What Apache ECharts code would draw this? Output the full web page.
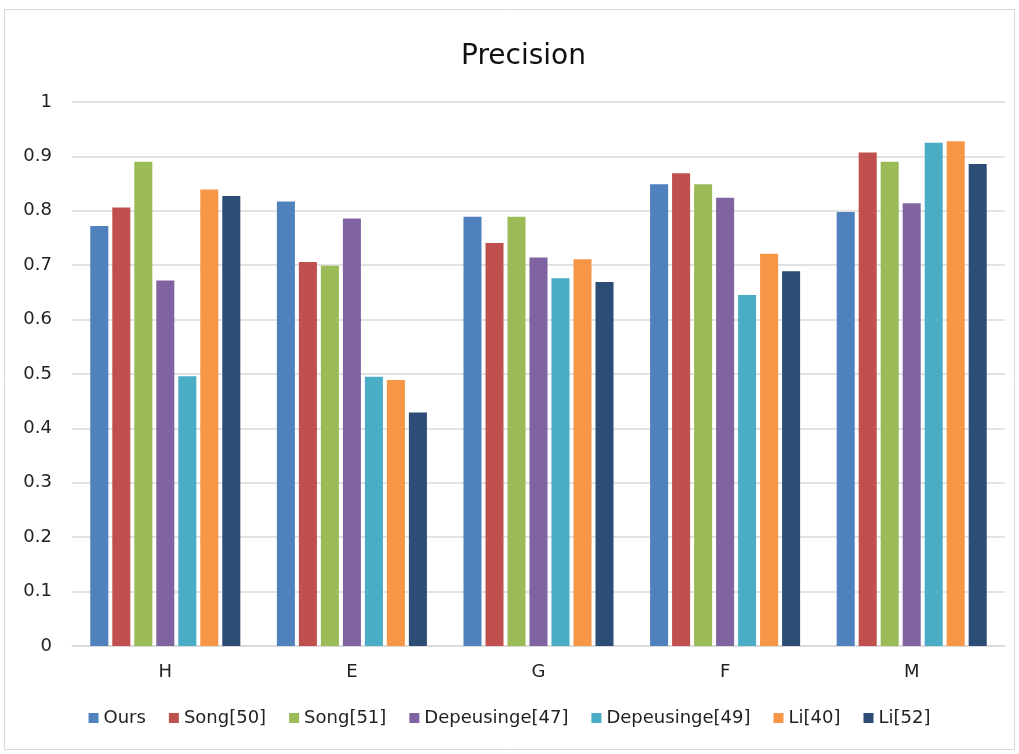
<!DOCTYPE html>
<html>
<head>
<meta charset="utf-8">
<script src="https://cdn.jsdelivr.net/npm/echarts@6/dist/echarts.min.js"></script>
<style>
  html, body { margin: 0; padding: 0; background: #fff; }
  #chart { width: 1019px; height: 754px; }
</style>
</head>
<body>
<div id="chart"></div>
<script>
// Precision per dataset and method
const categories = ['H', 'E', 'G', 'F', 'M'];
const seriesNames = ['Ours', 'Song[50]', 'Song[51]', 'Depeusinge[47]', 'Depeusinge[49]', 'Li[40]', 'Li[52]'];
const ours          = [0.772, 0.817, 0.789, 0.849, 0.798];
const song50        = [0.806, 0.706, 0.741, 0.869, 0.907];
const song51        = [0.890, 0.699, 0.789, 0.849, 0.890];
const depeusinge47  = [0.672, 0.786, 0.714, 0.824, 0.814];
const depeusinge49  = [0.496, 0.495, 0.676, 0.645, 0.925];
const li40          = [0.839, 0.489, 0.711, 0.721, 0.928];
const li52          = [0.827, 0.429, 0.669, 0.689, 0.886];
const yTicks = [0, 0.1, 0.2, 0.3, 0.4, 0.5, 0.6, 0.7, 0.8, 0.9, 1];

const seriesValues = [ours, song50, song51, depeusinge47, depeusinge49, li40, li52];
const colors = ['#4F81BD', '#C0504D', '#9BBB59', '#8064A2', '#4BACC6', '#F79646', '#2C4D75'];
const font = 'DejaVu Sans';

const chart = echarts.init(document.getElementById('chart'));
chart.setOption({
  animation: false,
  color: colors,
  title: {
    text: 'Precision',
    left: 456,
    top: 38,
    textStyle: { fontFamily: font, fontSize: 28, fontWeight: 'normal', color: '#111' }
  },
  graphic: [{
    type: 'rect',
    shape: { x: 4.5, y: 9.5, width: 1010, height: 740 },
    style: { fill: 'none', stroke: '#d9d9d9', lineWidth: 1 },
    silent: true
  }],
  legend: {
    data: seriesNames,
    top: 704,
    left: 'center',
    itemWidth: 10,
    itemHeight: 10,
    itemGap: 23,
    icon: 'rect',
    textStyle: { fontFamily: font, fontSize: 18, color: '#222' }
  },
  grid: { left: 72, right: 14, top: 102, bottom: 108 },
  xAxis: {
    type: 'category',
    data: categories,
    axisLine: { lineStyle: { color: '#d9d9d9', width: 1.5 } },
    axisTick: { show: false },
    axisLabel: { fontFamily: font, fontSize: 18, color: '#222', margin: 17 }
  },
  yAxis: {
    type: 'value',
    min: 0,
    max: 1,
    interval: 0.1,
    axisLine: { show: false },
    axisTick: { show: false },
    splitLine: { lineStyle: { color: '#d9d9d9', width: 1.5 } },
    axisLabel: {
      fontFamily: font, fontSize: 18, color: '#222', margin: 20,
      formatter: v => {
        const t = yTicks.find(x => Math.abs(x - v) < 1e-9);
        return t === undefined ? '' : String(t);
      }
    }
  },
  series: seriesNames.map((name, i) => ({
    name,
    type: 'bar',
    data: seriesValues[i],
    barGap: '22%',
    barCategoryGap: '19.6%'
  }))
});
</script>
</body>
</html>
